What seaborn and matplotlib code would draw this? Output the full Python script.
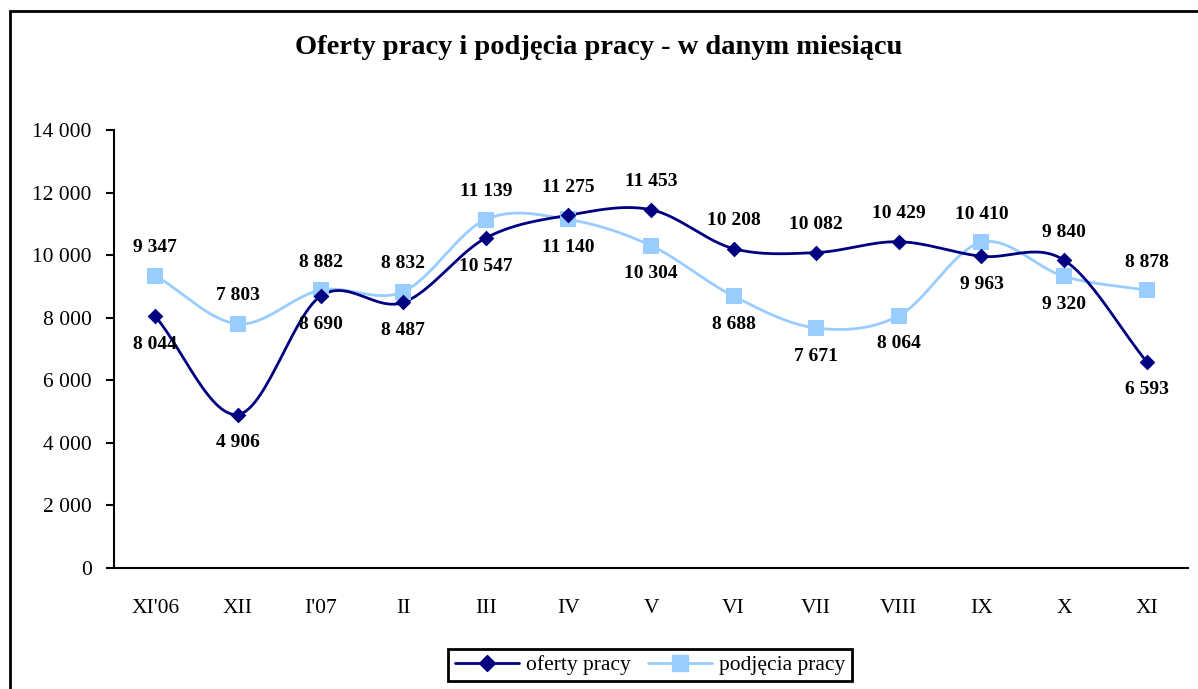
import numpy as np
import pandas as pd
import matplotlib
matplotlib.use("Agg")
import matplotlib.pyplot as plt
import seaborn as sns
from matplotlib.patches import Rectangle
from matplotlib.lines import Line2D

miesiace = ["XI'06", "XII", "I'07", "II", "III", "IV", "V", "VI", "VII", "VIII", "IX", "X", "XI"]
oferty = [8044, 4906, 8690, 8487, 10547, 11275, 11453, 10208, 10082, 10429, 9963, 9840, 6593]
podjecia = [9347, 7803, 8882, 8832, 11139, 11140, 10304, 8688, 7671, 8064, 10410, 9320, 8878]

# gdzie podpis: 1 = nad punktem, -1 = pod punktem
poz_oferty = [-1, -1, -1, -1, -1, 1, 1, 1, 1, 1, -1, 1, -1]
poz_podjecia = [1, 1, 1, 1, 1, -1, -1, -1, -1, -1, 1, -1, 1]

GRANAT = "#000080"
JASNY = "#99CCFF"

sns.set_theme(style="white")
plt.rcParams['font.family'] = ['Liberation Serif', 'DejaVu Serif']
plt.rcParams['text.color'] = 'black'
plt.rcParams['xtick.color'] = 'black'
plt.rcParams['ytick.color'] = 'black'
plt.rcParams['axes.labelcolor'] = 'black'


def wygladz(x, y, n=30):
    # spline Catmull-Rom, tak jak wygładzanie w Excelu
    x = np.asarray(x, float)
    y = np.asarray(y, float)
    px = np.concatenate([[2 * x[0] - x[1]], x, [2 * x[-1] - x[-2]]])
    py = np.concatenate([[2 * y[0] - y[1]], y, [2 * y[-1] - y[-2]]])
    xs, ys = [], []
    t = np.linspace(0, 1, n, endpoint=False)
    for i in range(1, len(px) - 2):
        for p, out in ((px, xs), (py, ys)):
            p0, p1, p2, p3 = p[i - 1], p[i], p[i + 1], p[i + 2]
            out.extend(0.5 * ((2 * p1) + (-p0 + p2) * t
                              + (2 * p0 - 5 * p1 + 4 * p2 - p3) * t ** 2
                              + (-p0 + 3 * p1 - 3 * p2 + p3) * t ** 3))
    xs.append(x[-1])
    ys.append(y[-1])
    return np.array(xs), np.array(ys)


df = pd.DataFrame({"miesiac": miesiace, "x": np.arange(len(miesiace)),
                   "oferty": oferty, "podjecia": podjecia})

fig = plt.figure(figsize=(11.98, 6.89), dpi=100)
ax = fig.add_axes([114 / 1198, 1 - 568 / 689, (1188 - 114) / 1198, (568 - 130) / 689])

# ramka wykresu
fig.patches.append(Rectangle((10 / 1198, -0.05), 1.1, 1 - 11 / 689 + 0.05,
                             transform=fig.transFigure, fill=False,
                             edgecolor="black", linewidth=2, zorder=0))

for kol, kolor, marker, ms in (("podjecia", JASNY, "s", 11), ("oferty", GRANAT, "D", 8)):
    sx, sy = wygladz(df["x"], df[kol])
    ax.plot(sx, sy, color=kolor, linewidth=2, zorder=2)
    sns.scatterplot(data=df, x="x", y=kol, ax=ax, color=kolor, marker=marker,
                    s=ms ** 2, edgecolor=kolor, linewidth=0, zorder=3, legend=False)

for seria, poz in ((oferty, poz_oferty), (podjecia, poz_podjecia)):
    for i, (v, p) in enumerate(zip(seria, poz)):
        ax.annotate(f"{v:,}".replace(",", " "), (i, v), xytext=(0, 28 * p),
                    textcoords="offset pixels", ha="center", va="center",
                    fontsize=14, fontweight="bold", color="black")

ax.set_xlim(-0.5, len(miesiace) - 0.5)
ax.set_ylim(0, 14000)
ax.set_yticks(np.arange(0, 14001, 2000))
ax.set_yticklabels([f"{v:,}".replace(",", " ") for v in range(0, 14001, 2000)], fontsize=15.5)
ax.set_xticks(range(len(miesiace)))
ax.set_xticklabels(miesiace, fontsize=15.5)
ax.set_xticks(np.arange(-0.5, len(miesiace)), minor=True)
ax.tick_params(axis="x", which="major", length=0, pad=22)
ax.tick_params(axis="x", which="minor", length=6, width=1.2, color="black", direction="out")
ax.tick_params(axis="y", length=6, width=1.5, color="black", direction="out", pad=10, left=True)
ax.set_xlabel("")
ax.set_ylabel("")
for s in ("top", "right"):
    ax.spines[s].set_visible(False)
for s in ("left", "bottom"):
    ax.spines[s].set_color("black")
    ax.spines[s].set_linewidth(1.5)

fig.text(0.5, 1 - 47 / 689, "Oferty pracy i podjęcia pracy - w danym miesiącu",
         ha="center", va="center", fontsize=20.5, fontweight="bold")

uchwyty = [Line2D([], [], color=GRANAT, marker="D", markersize=8, linewidth=2),
           Line2D([], [], color=JASNY, marker="s", markersize=11, linewidth=2)]
leg = fig.legend(uchwyty, ["oferty pracy", "podjęcia pracy"], loc="center",
                 bbox_to_anchor=(650 / 1198, 1 - 665 / 689), ncol=2, fontsize=15.5,
                 frameon=True, fancybox=False, edgecolor="black", framealpha=1,
                 handlelength=3, columnspacing=0.8, handletextpad=0.3, borderpad=0.3)
leg.get_frame().set_linewidth(2)

fig.savefig("out.png", dpi=100)
